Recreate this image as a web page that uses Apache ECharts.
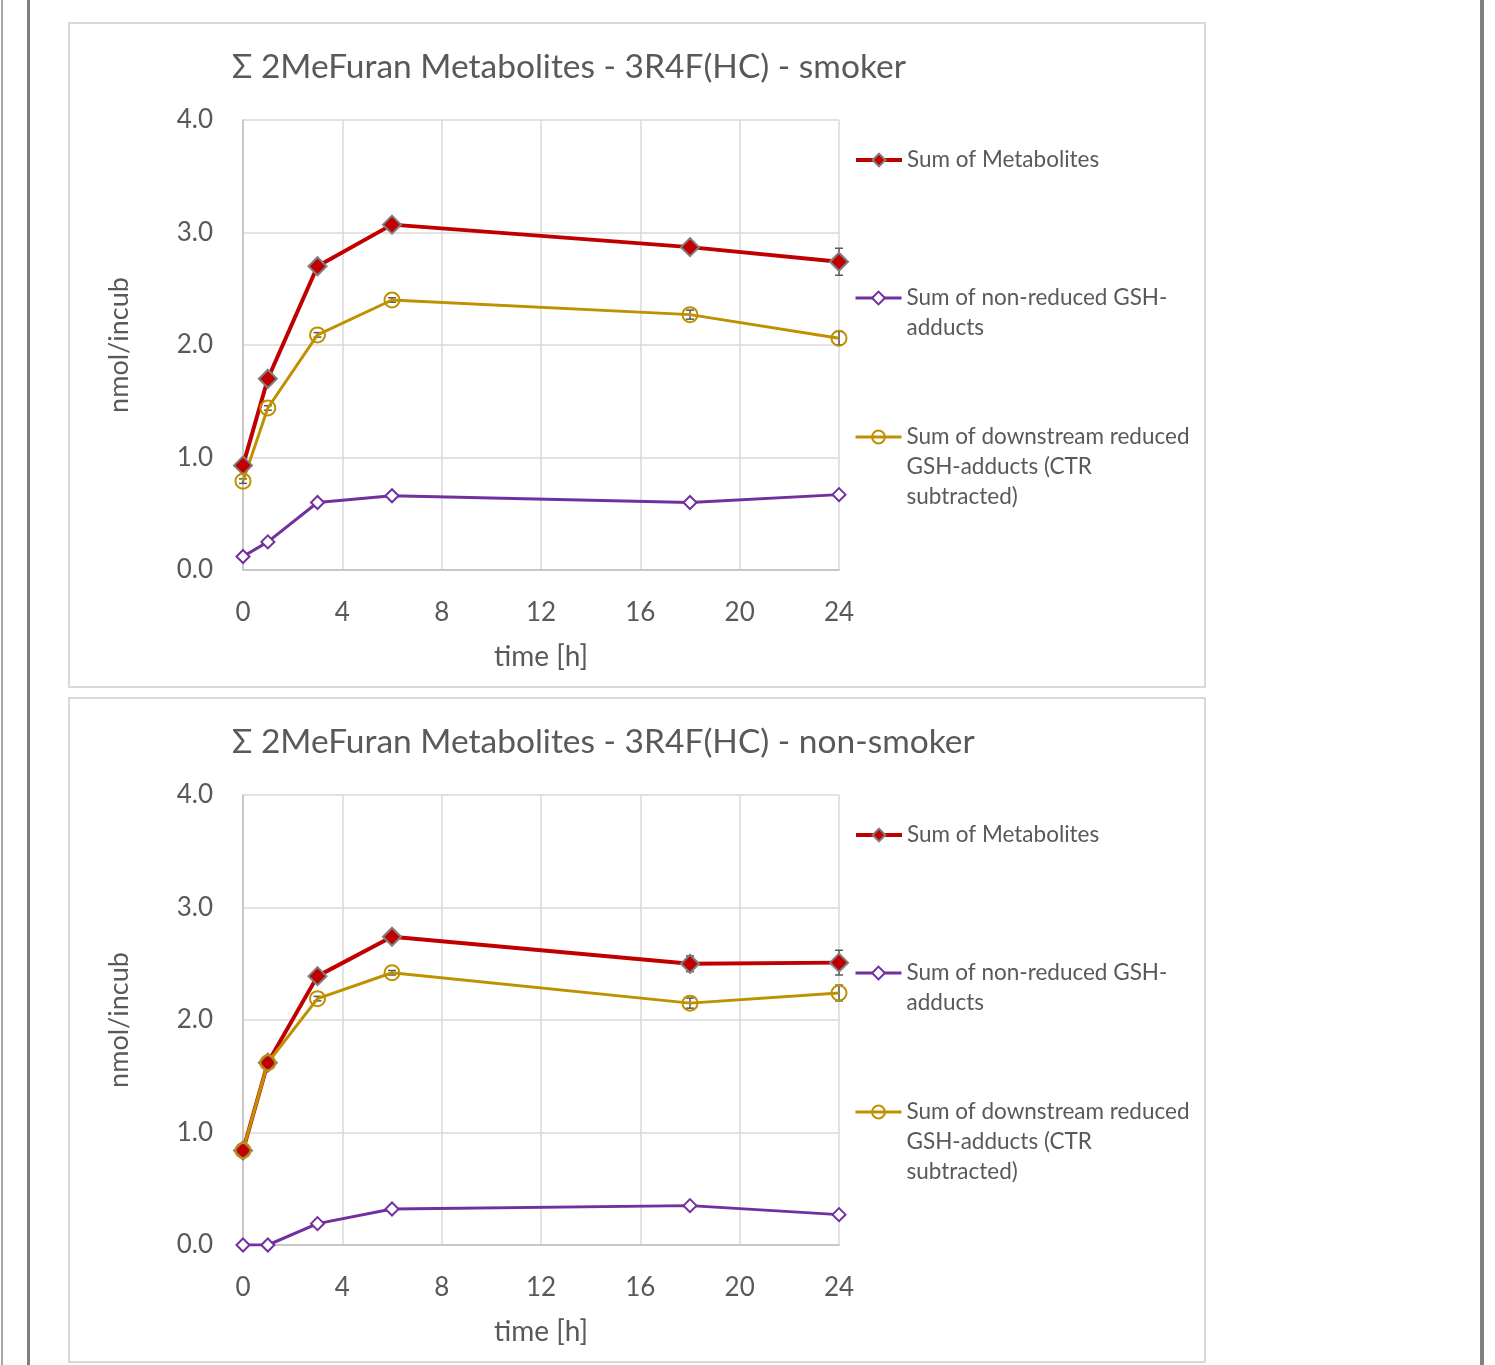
<!DOCTYPE html>
<html>
<head>
<meta charset="utf-8">
<script src="https://cdn.jsdelivr.net/npm/echarts@6/dist/echarts.min.js"></script>
<style>
  body { margin: 0; background: #fff; width: 1495px; height: 1365px; position: relative; overflow: hidden; }
  .edge { position: absolute; top: 0; height: 1365px; }
  .box { position: absolute; left: 68px; width: 1134px; height: 662px; border: 2px solid #d9d9d9; }
</style>
</head>
<body>
<div class="edge" style="left:1px;width:2px;background:#a6a6a6"></div>
<div class="edge" style="left:27px;width:3px;background:#808080"></div>
<div class="edge" style="left:1480px;width:4px;background:#808080"></div>
<div class="box" id="chartTop" style="top:22px"></div>
<div class="box" id="chartBottom" style="top:697px"></div>
<script>
// sampling times [h]
const times = [0, 1, 3, 6, 18, 24];

// smoker
const smokerSum = [0.93, 1.70, 2.70, 3.07, 2.87, 2.74];
const smokerSumErr = [0.02, 0.03, 0.03, 0.03, 0.03, 0.12];
const smokerNonReduced = [0.12, 0.25, 0.60, 0.66, 0.60, 0.67];
const smokerNonReducedErr = [0.01, 0.01, 0.01, 0.01, 0.01, 0.01];
const smokerReduced = [0.79, 1.44, 2.09, 2.40, 2.27, 2.06];
const smokerReducedErr = [0.02, 0.02, 0.02, 0.02, 0.04, 0.06];

// non-smoker
const nonSmokerSum = [0.84, 1.62, 2.39, 2.74, 2.50, 2.51];
const nonSmokerSumErr = [0.02, 0.02, 0.03, 0.03, 0.07, 0.11];
const nonSmokerNonReduced = [0.00, 0.00, 0.19, 0.32, 0.35, 0.27];
const nonSmokerNonReducedErr = [0.01, 0.01, 0.01, 0.01, 0.01, 0.01];
const nonSmokerReduced = [0.84, 1.62, 2.19, 2.42, 2.15, 2.24];
const nonSmokerReducedErr = [0.02, 0.02, 0.02, 0.02, 0.045, 0.07];

const yTicks = [0, 1, 2, 3, 4];
const xTicks = [0, 4, 8, 12, 16, 20, 24];

const legendNames = [
    'Sum of Metabolites',
    'Sum of non-reduced GSH-\nadducts',
    'Sum of downstream reduced\nGSH-adducts (CTR\nsubtracted)'
];

const textColor = '#595959';
const fontFamily = 'Lato, "Open Sans", sans-serif';

function pairs(vals) {
    return times.map((t, i) => [t, vals[i]]);
}

function errData(vals, errs) {
    return times.map((t, i) => [t, vals[i] - errs[i], vals[i] + errs[i]]);
}

function errorSeries(vals, errs) {
    return {
        type: 'custom',
        z: 1,
        silent: true,
        data: errData(vals, errs),
        renderItem: function (params, api) {
            const lo = api.coord([api.value(0), api.value(1)]);
            const hi = api.coord([api.value(0), api.value(2)]);
            const cap = 4;
            const style = { stroke: '#595959', lineWidth: 1.5 };
            return {
                type: 'group',
                children: [
                    { type: 'line', shape: { x1: lo[0], y1: lo[1], x2: hi[0], y2: hi[1] }, style: style },
                    { type: 'line', shape: { x1: lo[0] - cap, y1: lo[1], x2: lo[0] + cap, y2: lo[1] }, style: style },
                    { type: 'line', shape: { x1: hi[0] - cap, y1: hi[1], x2: hi[0] + cap, y2: hi[1] }, style: style }
                ]
            };
        }
    };
}

// one legend per entry so the gaps can follow the picture;
// blank lines in front keep the icon level with the first text line
function legendBox(name, iconY, lineWidth) {
    const lines = name.split('\n').length;
    return {
        data: [name],
        left: 784,
        top: iconY - (2 * lines - 1) * 15,
        itemWidth: 46,
        itemHeight: 16,
        padding: 0,
        selectedMode: false,
        lineStyle: { width: lineWidth },
        formatter: n => '\n'.repeat(lines - 1) + n,
        textStyle: {
            color: textColor,
            fontFamily: fontFamily,
            fontSize: 22.5,
            lineHeight: 30
        }
    };
}

function buildOption(title, sum, sumErr, nonRed, nonRedErr, red, redErr) {
    return {
        animation: false,
        title: {
            text: title,
            left: 162,
            top: 26,
            padding: 0,
            textStyle: { color: textColor, fontFamily: fontFamily, fontSize: 33.5, fontWeight: 'normal' }
        },
        legend: [
            legendBox(legendNames[0], 136, 4),
            legendBox(legendNames[1], 274, 3),
            legendBox(legendNames[2], 413, 3)
        ],
        grid: { left: 173, top: 96, width: 596, height: 450 },
        xAxis: {
            type: 'value',
            min: xTicks[0],
            max: xTicks[xTicks.length - 1],
            interval: 4,
            name: 'time [h]',
            nameLocation: 'middle',
            nameGap: 73,
            nameTextStyle: { color: textColor, fontFamily: fontFamily, fontSize: 28 },
            axisLine: { lineStyle: { color: '#bfbfbf', width: 1.5 } },
            axisTick: { show: false },
            axisLabel: { color: textColor, fontFamily: fontFamily, fontSize: 26, margin: 30 },
            splitLine: { lineStyle: { color: '#d9d9d9', width: 1.5 } }
        },
        yAxis: {
            type: 'value',
            min: yTicks[0],
            max: yTicks[yTicks.length - 1],
            interval: 1,
            name: 'nmol/incub',
            nameLocation: 'middle',
            nameGap: 110,
            nameRotate: 90,
            nameTextStyle: { color: textColor, fontFamily: fontFamily, fontSize: 27 },
            axisLine: { show: true, lineStyle: { color: '#bfbfbf', width: 1.5 } },
            axisTick: { show: false },
            axisLabel: {
                color: textColor, fontFamily: fontFamily, fontSize: 26, margin: 30,
                padding: [4, 0, 0, 0],
                formatter: v => v.toFixed(1)
            },
            splitLine: { lineStyle: { color: '#d9d9d9', width: 1.5 } }
        },
        series: [
            errorSeries(sum, sumErr),
            errorSeries(nonRed, nonRedErr),
            errorSeries(red, redErr),
            {
                name: legendNames[0],
                type: 'line',
                z: 3,
                data: pairs(sum),
                symbol: 'diamond',
                symbolSize: 18,
                lineStyle: { color: '#c00000', width: 4 },
                itemStyle: { color: '#c00000', borderColor: '#7f7f7f', borderWidth: 2 }
            },
            {
                name: legendNames[1],
                type: 'line',
                z: 3,
                data: pairs(nonRed),
                symbol: 'diamond',
                symbolSize: 13,
                lineStyle: { color: '#7030a0', width: 3 },
                itemStyle: { color: '#ffffff', borderColor: '#7030a0', borderWidth: 2 }
            },
            {
                name: legendNames[2],
                type: 'line',
                z: 3,
                data: pairs(red),
                symbol: 'circle',
                symbolSize: 15,
                lineStyle: { color: '#bf9000', width: 3 },
                itemStyle: { color: 'rgba(255,255,255,0)', borderColor: '#bf9000', borderWidth: 2 }
            }
        ]
    };
}

const topChart = echarts.init(document.getElementById('chartTop'));
topChart.setOption(buildOption('Σ 2MeFuran Metabolites - 3R4F(HC) - smoker',
    smokerSum, smokerSumErr, smokerNonReduced, smokerNonReducedErr, smokerReduced, smokerReducedErr));

const bottomChart = echarts.init(document.getElementById('chartBottom'));
bottomChart.setOption(buildOption('Σ 2MeFuran Metabolites - 3R4F(HC) - non-smoker',
    nonSmokerSum, nonSmokerSumErr, nonSmokerNonReduced, nonSmokerNonReducedErr, nonSmokerReduced, nonSmokerReducedErr));
</script>
</body>
</html>
